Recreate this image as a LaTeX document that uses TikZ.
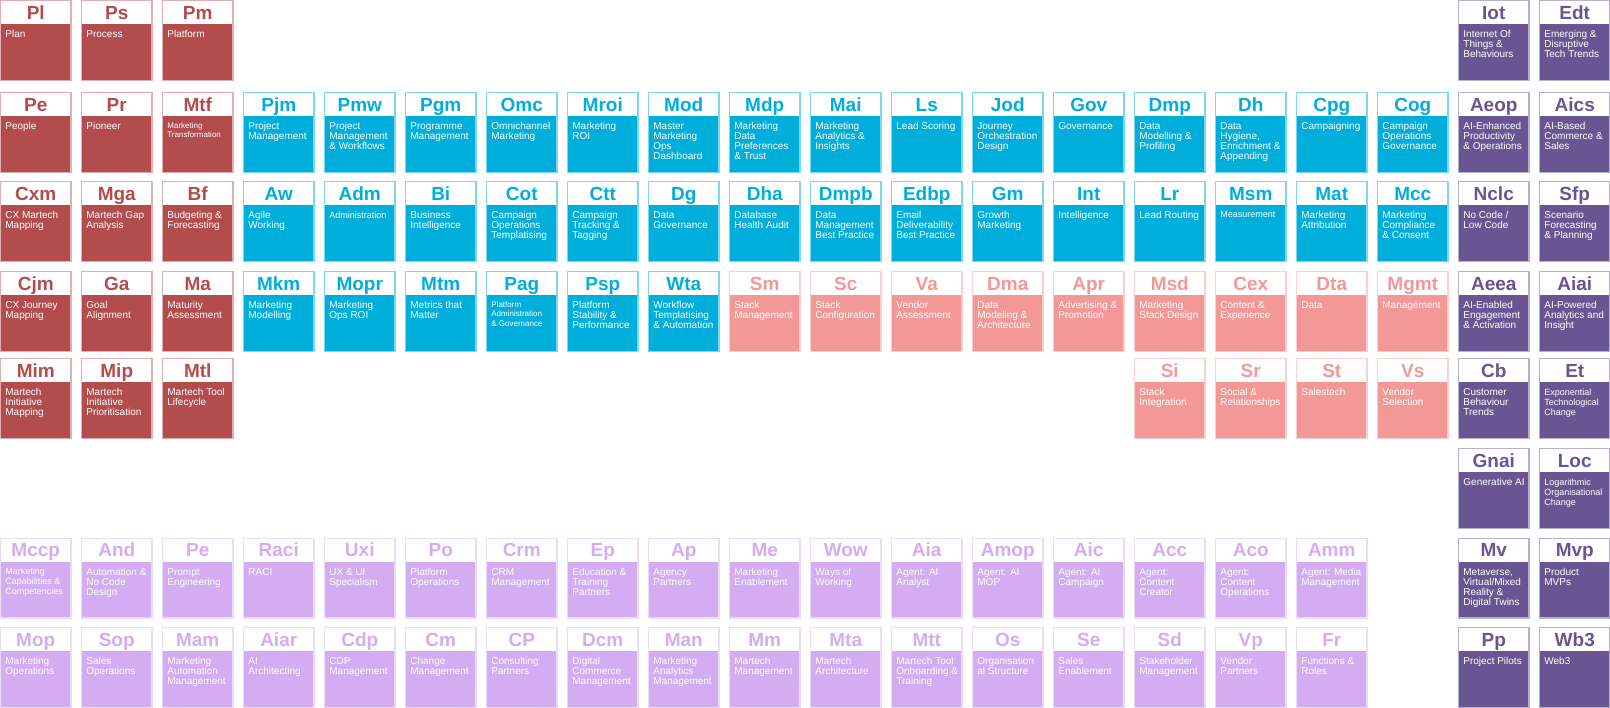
\documentclass[tikz,border=0pt]{standalone}
\usepackage{fontspec}
\setmainfont{Liberation Sans}
\definecolor{cR}{HTML}{B34D4D}\definecolor{cRL}{HTML}{E3AEAE}
\definecolor{cB}{HTML}{00AEDB}\definecolor{cBL}{HTML}{7FD6F0}
\definecolor{cS}{HTML}{F29998}\definecolor{cSL}{HTML}{FAD0CF}
\definecolor{cP}{HTML}{D4ACF2}\definecolor{cPL}{HTML}{EBDAF9}
\definecolor{cD}{HTML}{6A5593}\definecolor{cDL}{HTML}{B8AED0}
\tikzset{
  tilebox/.style={rectangle, minimum width=70.3pt, minimum height=79.8pt, line width=1.2pt, inner sep=0pt},
  headbox/.style={rectangle, fill=white, minimum width=69.1pt, minimum height=22.8pt, inner sep=0pt},
  codetext/.style={font=\fontsize{19}{19}\selectfont\bfseries, inner sep=0pt, anchor=base},
  bodytext/.style={text=white, align=left, anchor=north west, inner sep=0pt}
}
% #1 size, #2 col, #3 row, #4 colour, #5 code, #6 text
\newcommand{\mtile}[6][10]{%
  \pgfmathsetmacro{\tx}{81*#2}%
  \pgfmathsetmacro{\ty}{{0,92,181,271,358,448,537.5,627}[#3]}%
  \pgfmathsetmacro{\bls}{min(10,#1+1.3)}%
  \node[tilebox, draw=#4L, fill=#4] (t#2-#3) at (\tx+35.75, -\ty-40.5) {};
  \node[headbox] (h#2-#3) at (\tx+35.75, -\ty-12.6) {};
  \node[codetext, text=#4] (c#2-#3) at (\tx+35.75, -\ty-19.2) {#5};
  \node[bodytext, font=\fontsize{#1}{\bls}\selectfont] (b#2-#3) at (\tx+5.2, -\ty-30.5) {#6};
}
\begin{document}
\begin{tikzpicture}[x=1pt,y=1pt]
\useasboundingbox (0,0) rectangle (1610,-708);
% red
\mtile{0}{0}{cR}{Pl}{Plan}
\mtile{1}{0}{cR}{Ps}{Process}
\mtile{2}{0}{cR}{Pm}{Platform}
\mtile{0}{1}{cR}{Pe}{People}
\mtile{1}{1}{cR}{Pr}{Pioneer}
\mtile[8]{2}{1}{cR}{Mtf}{Marketing\\Transformation}
\mtile{0}{2}{cR}{Cxm}{CX Martech\\Mapping}
\mtile{1}{2}{cR}{Mga}{Martech Gap\\Analysis}
\mtile{2}{2}{cR}{Bf}{Budgeting \&\\Forecasting}
\mtile{0}{3}{cR}{Cjm}{CX Journey\\Mapping}
\mtile{1}{3}{cR}{Ga}{Goal\\Alignment}
\mtile{2}{3}{cR}{Ma}{Maturity\\Assessment}
\mtile{0}{4}{cR}{Mim}{Martech\\Initiative\\Mapping}
\mtile{1}{4}{cR}{Mip}{Martech\\Initiative\\Prioritisation}
\mtile{2}{4}{cR}{Mtl}{Martech Tool\\Lifecycle}
% blue row 1
\mtile{3}{1}{cB}{Pjm}{Project\\Management}
\mtile{4}{1}{cB}{Pmw}{Project\\Management\\\& Workflows}
\mtile{5}{1}{cB}{Pgm}{Programme\\Management}
\mtile{6}{1}{cB}{Omc}{Omnichannel\\Marketing}
\mtile{7}{1}{cB}{Mroi}{Marketing\\ROI}
\mtile{8}{1}{cB}{Mod}{Master\\Marketing\\Ops\\Dashboard}
\mtile{9}{1}{cB}{Mdp}{Marketing\\Data\\Preferences\\\& Trust}
\mtile{10}{1}{cB}{Mai}{Marketing\\Analytics \&\\Insights}
\mtile{11}{1}{cB}{Ls}{Lead Scoring}
\mtile{12}{1}{cB}{Jod}{Journey\\Orchestration\\Design}
\mtile{13}{1}{cB}{Gov}{Governance}
\mtile{14}{1}{cB}{Dmp}{Data\\Modelling \&\\Profiling}
\mtile{15}{1}{cB}{Dh}{Data\\Hygiene,\\Enrichment \&\\Appending}
\mtile{16}{1}{cB}{Cpg}{Campaigning}
\mtile{17}{1}{cB}{Cog}{Campaign\\Operations\\Governance}
% blue row 2
\mtile{3}{2}{cB}{Aw}{Agile\\Working}
\mtile[9]{4}{2}{cB}{Adm}{Administration}
\mtile{5}{2}{cB}{Bi}{Business\\Intelligence}
\mtile{6}{2}{cB}{Cot}{Campaign\\Operations\\Templatising}
\mtile{7}{2}{cB}{Ctt}{Campaign\\Tracking \&\\Tagging}
\mtile{8}{2}{cB}{Dg}{Data\\Governance}
\mtile{9}{2}{cB}{Dha}{Database\\Health Audit}
\mtile{10}{2}{cB}{Dmpb}{Data\\Management\\Best Practice}
\mtile{11}{2}{cB}{Edbp}{Email\\Deliverability\\Best Practice}
\mtile{12}{2}{cB}{Gm}{Growth\\Marketing}
\mtile{13}{2}{cB}{Int}{Intelligence}
\mtile{14}{2}{cB}{Lr}{Lead Routing}
\mtile[9]{15}{2}{cB}{Msm}{Measurement}
\mtile{16}{2}{cB}{Mat}{Marketing\\Attribution}
\mtile{17}{2}{cB}{Mcc}{Marketing\\Compliance\\\& Consent}
% blue row 3
\mtile{3}{3}{cB}{Mkm}{Marketing\\Modelling}
\mtile{4}{3}{cB}{Mopr}{Marketing\\Ops ROI}
\mtile{5}{3}{cB}{Mtm}{Metrics that\\Matter}
\mtile[8]{6}{3}{cB}{Pag}{Platform\\Administration\\\& Governance}
\mtile{7}{3}{cB}{Psp}{Platform\\Stability \&\\Performance}
\mtile{8}{3}{cB}{Wta}{Workflow\\Templatising\\\& Automation}
% salmon
\mtile{9}{3}{cS}{Sm}{Stack\\Management}
\mtile{10}{3}{cS}{Sc}{Stack\\Configuration}
\mtile{11}{3}{cS}{Va}{Vendor\\Assessment}
\mtile{12}{3}{cS}{Dma}{Data\\Modeling \&\\Architecture}
\mtile{13}{3}{cS}{Apr}{Advertising \&\\Promotion}
\mtile{14}{3}{cS}{Msd}{Marketing\\Stack Design}
\mtile{15}{3}{cS}{Cex}{Content \&\\Experience}
\mtile{16}{3}{cS}{Dta}{Data}
\mtile{17}{3}{cS}{Mgmt}{Management}
\mtile{14}{4}{cS}{Si}{Stack\\Integration}
\mtile{15}{4}{cS}{Sr}{Social \&\\Relationships}
\mtile{16}{4}{cS}{St}{Salestech}
\mtile{17}{4}{cS}{Vs}{Vendor\\Selection}
% dark purple
\mtile{18}{0}{cD}{Iot}{Internet Of\\Things \&\\Behaviours}
\mtile{19}{0}{cD}{Edt}{Emerging \&\\Disruptive\\Tech Trends}
\mtile{18}{1}{cD}{Aeop}{AI-Enhanced\\Productivity\\\& Operations}
\mtile{19}{1}{cD}{Aics}{AI-Based\\Commerce \&\\Sales}
\mtile{18}{2}{cD}{Nclc}{No Code /\\Low Code}
\mtile{19}{2}{cD}{Sfp}{Scenario\\Forecasting\\\& Planning}
\mtile{18}{3}{cD}{Aeea}{AI-Enabled\\Engagement\\\& Activation}
\mtile{19}{3}{cD}{Aiai}{AI-Powered\\Analytics and\\Insight}
\mtile{18}{4}{cD}{Cb}{Customer\\Behaviour\\Trends}
\mtile[9]{19}{4}{cD}{Et}{Exponential\\Technological\\Change}
\mtile{18}{5}{cD}{Gnai}{Generative AI}
\mtile[9]{19}{5}{cD}{Loc}{Logarithmic\\Organisational\\Change}
\mtile{18}{6}{cD}{Mv}{Metaverse,\\Virtual/Mixed\\Reality \&\\Digital Twins}
\mtile{19}{6}{cD}{Mvp}{Product\\MVPs}
\mtile{18}{7}{cD}{Pp}{Project Pilots}
\mtile{19}{7}{cD}{Wb3}{Web3}
% light purple row 6
\mtile[9]{0}{6}{cP}{Mccp}{Marketing\\Capabilities \&\\Competencies}
\mtile{1}{6}{cP}{And}{Automation \&\\No Code\\Design}
\mtile{2}{6}{cP}{Pe}{Prompt\\Engineering}
\mtile{3}{6}{cP}{Raci}{RACI}
\mtile{4}{6}{cP}{Uxi}{UX \& UI\\Specialism}
\mtile{5}{6}{cP}{Po}{Platform\\Operations}
\mtile{6}{6}{cP}{Crm}{CRM\\Management}
\mtile{7}{6}{cP}{Ep}{Education \&\\Training\\Partners}
\mtile{8}{6}{cP}{Ap}{Agency\\Partners}
\mtile{9}{6}{cP}{Me}{Marketing\\Enablement}
\mtile{10}{6}{cP}{Wow}{Ways of\\Working}
\mtile{11}{6}{cP}{Aia}{Agent: AI\\Analyst}
\mtile{12}{6}{cP}{Amop}{Agent: AI\\MOP}
\mtile{13}{6}{cP}{Aic}{Agent: AI\\Campaign}
\mtile{14}{6}{cP}{Acc}{Agent:\\Content\\Creator}
\mtile{15}{6}{cP}{Aco}{Agent:\\Content\\Operations}
\mtile{16}{6}{cP}{Amm}{Agent: Media\\Management}
% light purple row 7
\mtile{0}{7}{cP}{Mop}{Marketing\\Operations}
\mtile{1}{7}{cP}{Sop}{Sales\\Operations}
\mtile{2}{7}{cP}{Mam}{Marketing\\Automation\\Management}
\mtile{3}{7}{cP}{Aiar}{AI\\Architecting}
\mtile{4}{7}{cP}{Cdp}{CDP\\Management}
\mtile{5}{7}{cP}{Cm}{Change\\Management}
\mtile{6}{7}{cP}{CP}{Consulting\\Partners}
\mtile{7}{7}{cP}{Dcm}{Digital\\Commerce\\Management}
\mtile{8}{7}{cP}{Man}{Marketing\\Analytics\\Management}
\mtile{9}{7}{cP}{Mm}{Martech\\Management}
\mtile{10}{7}{cP}{Mta}{Martech\\Architecture}
\mtile{11}{7}{cP}{Mtt}{Martech Tool\\Onboarding \&\\Training}
\mtile{12}{7}{cP}{Os}{Organisation\\al Structure}
\mtile{13}{7}{cP}{Se}{Sales\\Enablement}
\mtile{14}{7}{cP}{Sd}{Stakeholder\\Management}
\mtile{15}{7}{cP}{Vp}{Vendor\\Partners}
\mtile{16}{7}{cP}{Fr}{Functions \&\\Roles}
\end{tikzpicture}
\end{document}
